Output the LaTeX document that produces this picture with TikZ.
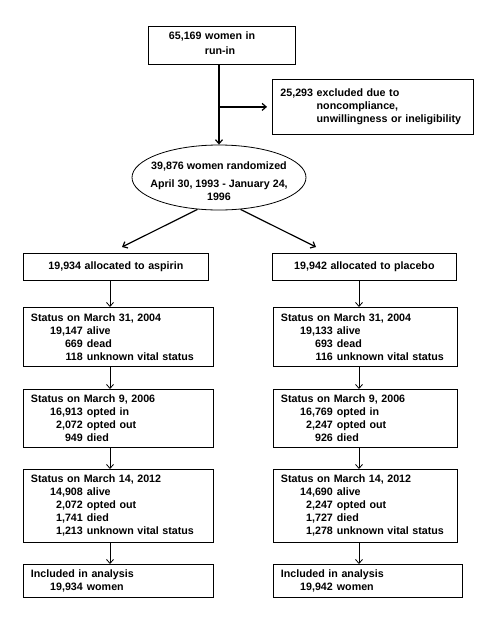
\documentclass[tikz,border=0pt]{standalone}
\usepackage{fontspec}
\setmainfont{Liberation Sans}
\usetikzlibrary{arrows.meta,shapes.geometric}
\newcommand{\cnt}[2]{\makebox[52pt][r]{#1}\hspace{4pt}#2}

\begin{document}
\begin{tikzpicture}[x=1pt,y=-1pt,
  font=\bfseries\fontsize{10.7}{13}\selectfont,
  box/.style={draw, line width=0.8pt, anchor=north west, align=left, inner xsep=7.5pt, inner ysep=0pt},
  arr/.style={-{Straight Barb[length=4pt,width=7pt]}, line width=1.2pt},
  thinarr/.style={-{Straight Barb[length=4pt,width=7pt]}, line width=0.8pt}]

\useasboundingbox (0,0) rectangle (498,618);

% Run-in, exclusions and randomization
\node[box, text width=106pt, inner xsep=20.5pt, minimum height=38pt] (runin) at (148,26)
    {65,169 women in\\[1.5pt]\hspace*{36pt}run-in\rule[-5pt]{0pt}{5pt}};
\node[box, text width=185pt, inner xsep=8pt, minimum height=55pt] (excl) at (272,79)
    {25,293 excluded due to\\\hphantom{25,293\ }noncompliance,\\\hphantom{25,293\ }unwillingness or ineligibility};
\node[draw, ellipse, line width=0.8pt, minimum width=174pt, minimum height=65pt, inner sep=0pt] (rand) at (219,177.5) {};
\node[align=center, inner sep=0pt] (randtext) at ([yshift=-4pt]rand.center)
    {39,876 women randomized\\[5pt]April 30, 1993 - January 24,\\1996};

\draw[arr] (runin.south -| rand.north) -- (rand.north);
\draw[arr, shorten >=5pt] (rand.north |- excl.west) -- (excl.west);

% Allocation
\node[box, align=center, text width=170pt, minimum height=27pt] (asp) at (23,253) {19,934 allocated to aspirin};
\node[box, align=center, text width=169pt, minimum height=27pt] (plc) at (272,253) {19,942 allocated to placebo};
\coordinate (aspin) at (122,247);
\coordinate (plcin) at (316,247);
\draw[arr] (rand.236) -- (aspin);
\draw[arr] (rand.304) -- (plcin);

% Aspirin arm
\node[box, text width=175pt, minimum height=59pt] (s04l) at (23,307)
    {Status on March 31, 2004\\\cnt{19,147}{alive}\\\cnt{669}{dead}\\\cnt{118}{unknown vital status}};
\node[box, text width=175pt, minimum height=58pt] (s06l) at (23,389)
    {Status on March 9, 2006\\\cnt{16,913}{opted in}\\\cnt{2,072}{opted out}\\\cnt{949}{died}};
\node[box, text width=175pt, minimum height=73pt] (s12l) at (23,469)
    {Status on March 14, 2012\\\cnt{14,908}{alive}\\\cnt{2,072}{opted out}\\\cnt{1,741}{died}\\\cnt{1,213}{unknown vital status}};
\node[box, text width=175pt, minimum height=33pt] (incl) at (23,564)
    {Included in analysis\\\cnt{19,934}{women}};

% Placebo arm
\node[box, text width=169pt, minimum height=59pt] (s04r) at (273,307)
    {Status on March 31, 2004\\\cnt{19,133}{alive}\\\cnt{693}{dead}\\\cnt{116}{unknown vital status}};
\node[box, text width=169pt, minimum height=58pt] (s06r) at (273,389)
    {Status on March 9, 2006\\\cnt{16,769}{opted in}\\\cnt{2,247}{opted out}\\\cnt{926}{died}};
\node[box, text width=169pt, minimum height=73pt] (s12r) at (273,469)
    {Status on March 14, 2012\\\cnt{14,690}{alive}\\\cnt{2,247}{opted out}\\\cnt{1,727}{died}\\\cnt{1,278}{unknown vital status}};
\node[box, text width=174pt, minimum height=33pt] (incr) at (273,564)
    {Included in analysis\\\cnt{19,942}{women}};

% Arrows down each arm
\coordinate (lcol) at (110,0);
\coordinate (rcol) at (359,0);
\draw[thinarr] (asp.south -| lcol) -- (s04l.north -| lcol);
\draw[thinarr] (s04l.south -| lcol) -- (s06l.north -| lcol);
\draw[thinarr] (s06l.south -| lcol) -- (s12l.north -| lcol);
\draw[thinarr] (s12l.south -| lcol) -- (incl.north -| lcol);
\draw[thinarr] (plc.south -| rcol) -- (s04r.north -| rcol);
\draw[thinarr] (s04r.south -| rcol) -- (s06r.north -| rcol);
\draw[thinarr] (s06r.south -| rcol) -- (s12r.north -| rcol);
\draw[thinarr] (s12r.south -| rcol) -- (incr.north -| rcol);

\end{tikzpicture}
\end{document}
